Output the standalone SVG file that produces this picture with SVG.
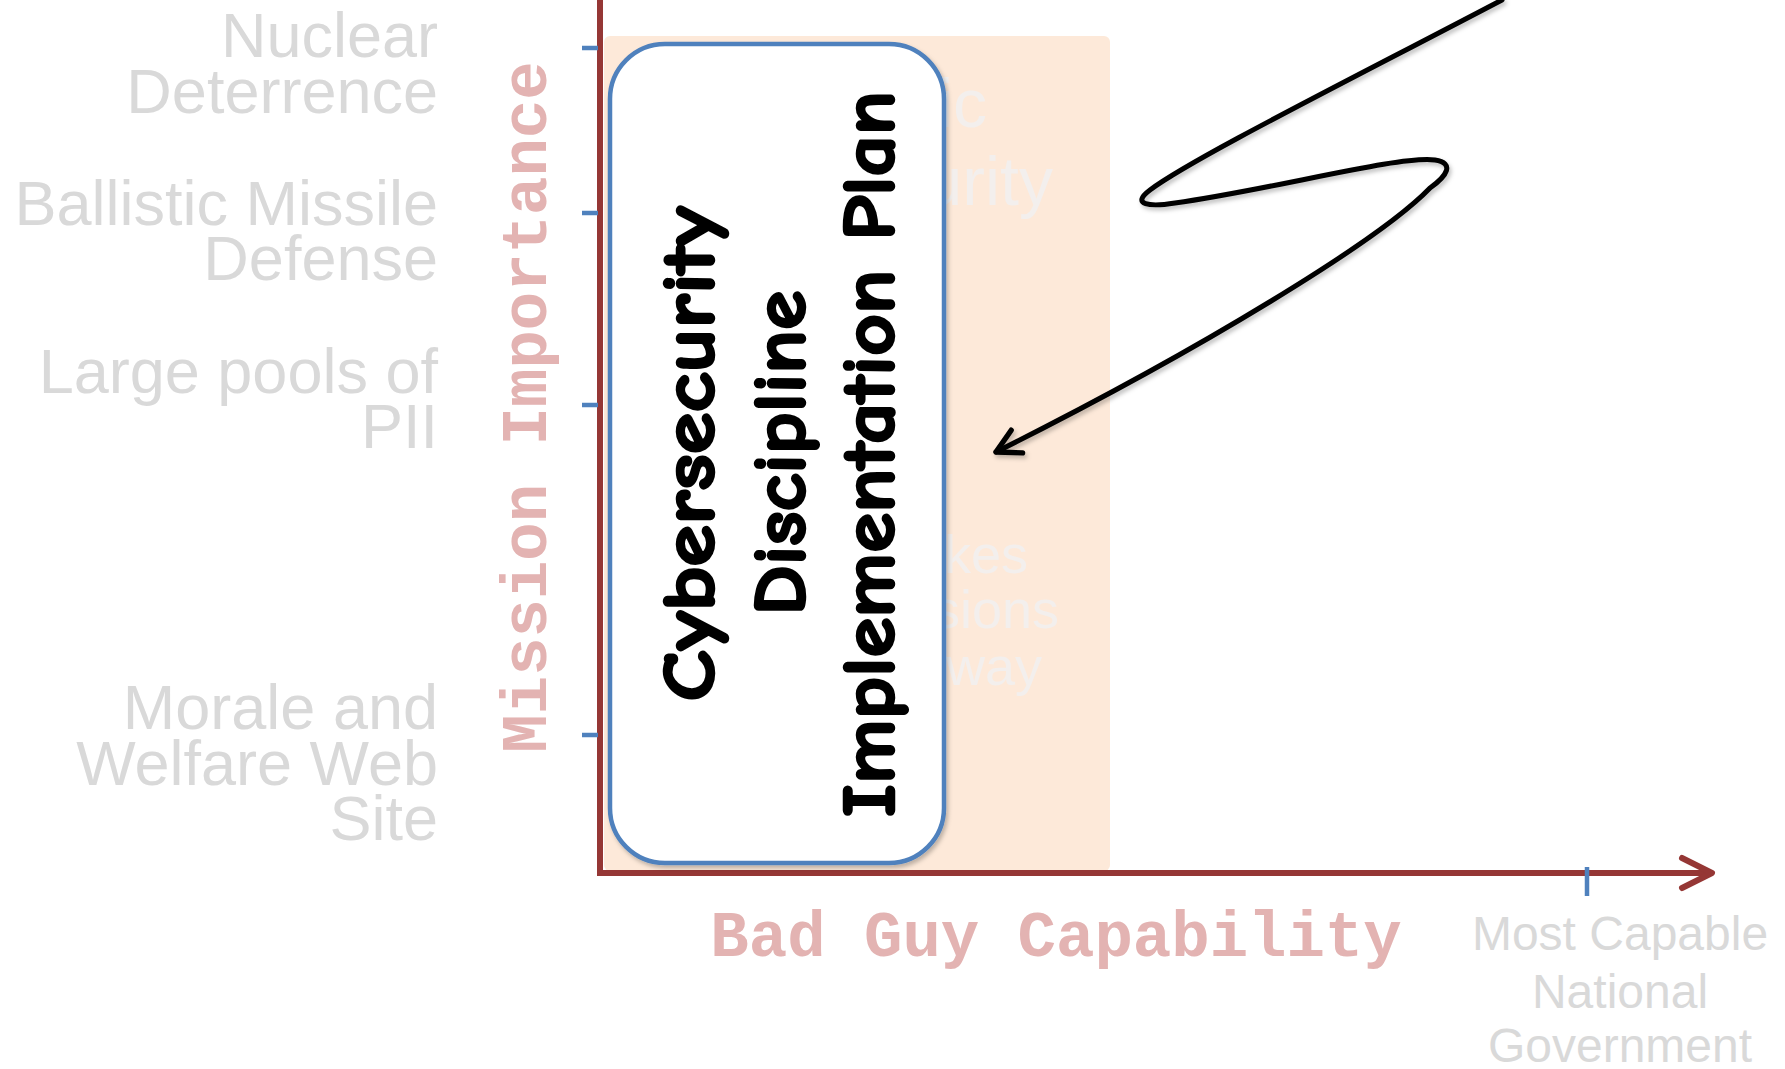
<svg xmlns="http://www.w3.org/2000/svg" width="1785" height="1069" viewBox="0 0 1785 1069">
<style>
.lbl{font-family:"Liberation Sans",Arial,sans-serif;fill:#d9d9d9;}
.axl{font-family:"Liberation Mono","Courier New",monospace;font-weight:bold;font-size:64px;fill:#e3b3b2;}
.faint{font-family:"Liberation Sans",Arial,sans-serif;fill:#f3efed;text-anchor:end;}
.hand{font-family:"Comic Sans MS","Comic Neue","DejaVu Sans",sans-serif;font-weight:bold;font-size:74px;fill:#000;stroke:#000;stroke-width:2.5;stroke-linejoin:round;text-anchor:middle;}
.axis{stroke:#953735;stroke-width:6;fill:none;}
.tick{stroke:#4f81bd;stroke-width:4.5;}
</style>
<defs>
<filter id="sh" x="-10%" y="-10%" width="120%" height="120%">
<feDropShadow dx="2" dy="3" stdDeviation="2" flood-color="#000" flood-opacity="0.25"/>
</filter>
<marker id="openArrow" markerWidth="34" markerHeight="34" refX="0" refY="0" viewBox="-28 -16 32 32" orient="auto" markerUnits="userSpaceOnUse">
<path d="M-22,-12 L0,0 L-22,12" fill="none" stroke="#000" stroke-width="5" stroke-linecap="round" stroke-linejoin="round"/>
</marker>
</defs>
<rect width="1785" height="1069" fill="#fff"/>

<g id="background-band">
<rect x="604" y="36" width="506" height="835" rx="6" fill="#fde9d9"/>
<text class="faint" font-size="68" x="987" y="127">ic</text>
<text class="faint" font-size="68" x="1053" y="205">urity</text>
<text class="faint" font-size="54" x="1028" y="573">akes</text>
<text class="faint" font-size="54" x="1059" y="628">sions</text>
<text class="faint" font-size="54" x="1042" y="685">way</text>
</g>

<g id="y-labels">
<text class="lbl" font-size="63" text-anchor="end" x="438" y="57">Nuclear</text>
<text class="lbl" font-size="63" text-anchor="end" x="438" y="113">Deterrence</text>
<text class="lbl" font-size="63" text-anchor="end" x="438" y="225">Ballistic Missile</text>
<text class="lbl" font-size="63" text-anchor="end" x="438" y="280">Defense</text>
<text class="lbl" font-size="63" text-anchor="end" x="438" y="393">Large pools of</text>
<text class="lbl" font-size="63" text-anchor="end" x="438" y="448">PII</text>
<text class="lbl" font-size="63" text-anchor="end" x="438" y="729">Morale and</text>
<text class="lbl" font-size="63" text-anchor="end" x="438" y="785">Welfare Web</text>
<text class="lbl" font-size="63" text-anchor="end" x="438" y="840">Site</text>
</g>

<g id="x-label-right">
<text class="lbl" font-size="48" text-anchor="middle" x="1620" y="950">Most Capable</text>
<text class="lbl" font-size="48" text-anchor="middle" x="1620" y="1008">National</text>
<text class="lbl" font-size="48" text-anchor="middle" x="1620" y="1062">Government</text>
</g>

<g id="axes">
<line class="axis" x1="600" y1="-10" x2="600" y2="876"/>
<line class="axis" x1="597" y1="873" x2="1711" y2="873"/>
<path class="axis" d="M1682,858 L1712,873 L1682,888" stroke-linecap="round" stroke-linejoin="round"/>
<line class="tick" x1="582" y1="48" x2="598" y2="48"/>
<line class="tick" x1="582" y1="213" x2="598" y2="213"/>
<line class="tick" x1="582" y1="405" x2="598" y2="405"/>
<line class="tick" x1="582" y1="735" x2="598" y2="735"/>
<line class="tick" x1="1587" y1="867" x2="1587" y2="896"/>
<text class="axl" transform="translate(546,407) rotate(-90)" text-anchor="middle">Mission Importance</text>
<text class="axl" x="1056" y="956" text-anchor="middle">Bad Guy Capability</text>
</g>

<g id="plan-box">
<rect x="610" y="44" width="334" height="819" rx="55" fill="#fff" stroke="#4f81bd" stroke-width="4.5" filter="url(#sh)"/>
<text class="hand" transform="translate(714,454) rotate(-90)" textLength="495" lengthAdjust="spacingAndGlyphs">Cybersecurity</text>
<text class="hand" transform="translate(805,453) rotate(-90)" textLength="325" lengthAdjust="spacingAndGlyphs">Discipline</text>
<text class="hand" transform="translate(894,454) rotate(-90)" textLength="726" lengthAdjust="spacingAndGlyphs">Implementation Plan</text>
</g>

<g id="connectors">
<path d="M1502,0 C1330,90 1190,160 1150,190 C1130,205 1150,207 1175,203 C1270,190 1400,155 1435,160 C1455,163 1447,176 1430,188 C1380,240 1200,350 996,452" fill="none" stroke="#000" stroke-width="5" stroke-linecap="round" filter="url(#sh)" marker-end="url(#openArrow)"/>
</g>
</svg>
